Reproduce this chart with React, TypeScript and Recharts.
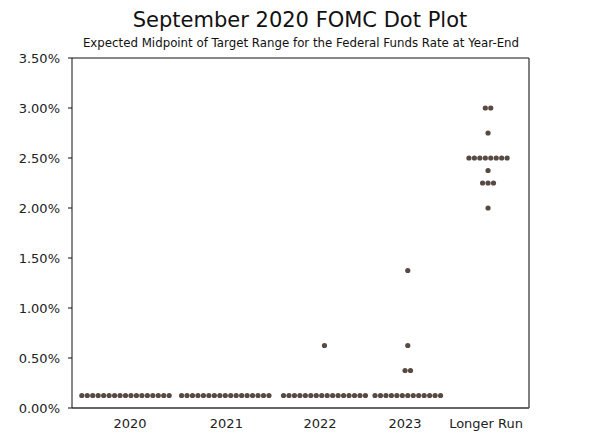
import React from 'react';
import { ScatterChart, Scatter, XAxis, YAxis, ReferenceLine } from 'recharts';

const categories = ['2020', '2021', '2022', '2023', 'Longer Run'];
// [rate (%), number of participants] per category
const dots2020: [number, number][] = [[0.125, 17]];
const dots2021: [number, number][] = [[0.125, 17]];
const dots2022: [number, number][] = [[0.125, 16], [0.625, 1]];
const dots2023: [number, number][] = [[0.125, 13], [0.375, 2], [0.625, 1], [1.375, 1]];
const dotsLongerRun: [number, number][] = [[2.0, 1], [2.25, 3], [2.375, 1], [2.5, 8], [2.75, 1], [3.0, 2]];
const yTicks = [0, 0.5, 1.0, 1.5, 2.0, 2.5, 3.0, 3.5];

// layout (x axis in dot-slot units)
const groupCenters = [9.6, 27.5, 45.3, 60.25, 74.65];
const labelPositions = [10.4, 27.7, 44.5, 59.75, 74.3];

const groups = [dots2020, dots2021, dots2022, dots2023, dotsLongerRun];

const points: { x: number; y: number }[] = [];
groups.forEach((g, gi) => {
  g.forEach(([rate, count]) => {
    for (let i = 0; i < count; i++) {
      points.push({ x: groupCenters[gi] + (i - (count - 1) / 2) * 0.98, y: rate });
    }
  });
});

const DOT = '#574a42';
const FONT = '"DejaVu Sans", Verdana, sans-serif';

const Dot = (props: any) => <circle cx={props.cx} cy={props.cy} r={2.6} fill={DOT} />;

const fmtPct = (v: number) => v.toFixed(2) + '%';
const fmtCat = (v: number) => {
  const i = labelPositions.indexOf(v);
  return i >= 0 ? categories[i] : '';
};

export default function App() {
  return (
    <div style={{ position: 'absolute', left: 0, top: 0, width: 600, height: 439, background: '#fff', fontFamily: FONT }}>
      <div style={{ position: 'absolute', left: 0, width: 600, top: 7, textAlign: 'center', fontSize: 21, color: '#111', lineHeight: '26px' }}>
        September 2020 FOMC Dot Plot
      </div>
      <div style={{ position: 'absolute', left: 1, width: 600, top: 36, textAlign: 'center', fontSize: 11.8, color: '#111', lineHeight: '14px' }}>
        Expected Midpoint of Target Range for the Federal Funds Rate at Year-End
      </div>
      <ScatterChart width={600} height={439} margin={{ top: 58, right: 0, bottom: 0, left: 0 }}>
        <XAxis
          type="number"
          dataKey="x"
          domain={[0, 82]}
          ticks={labelPositions}
          tickFormatter={fmtCat}
          interval={0}
          height={31}
          tickSize={0}
          tickMargin={11}
          axisLine={{ stroke: '#666', strokeWidth: 2 }}
          tick={{ fill: '#222', fontSize: 13, fontFamily: FONT }}
          allowDataOverflow
        />
        <YAxis
          yAxisId="left"
          type="number"
          dataKey="y"
          domain={[0, 3.5]}
          ticks={yTicks}
          tickFormatter={fmtPct}
          width={72}
          tickSize={4}
          tickMargin={8}
          axisLine={{ stroke: '#111', strokeWidth: 1 }}
          tickLine={{ stroke: '#111' }}
          tick={{ fill: '#222', fontSize: 13, fontFamily: FONT }}
        />
        <YAxis
          yAxisId="right"
          orientation="right"
          type="number"
          domain={[0, 3.5]}
          ticks={yTicks}
          tickFormatter={fmtPct}
          width={71}
          tickSize={4}
          tickMargin={5}
          axisLine={{ stroke: '#555', strokeWidth: 1.5 }}
          tickLine={{ stroke: '#555' }}
          tick={{ fill: '#222', fontSize: 13, fontFamily: FONT, textAnchor: 'start' }}
        />
        <ReferenceLine yAxisId="left" y={3.5} stroke="#111" strokeWidth={1} />
        <Scatter yAxisId="left" data={points} shape={Dot} isAnimationActive={false} />
      </ScatterChart>
    </div>
  );
}
